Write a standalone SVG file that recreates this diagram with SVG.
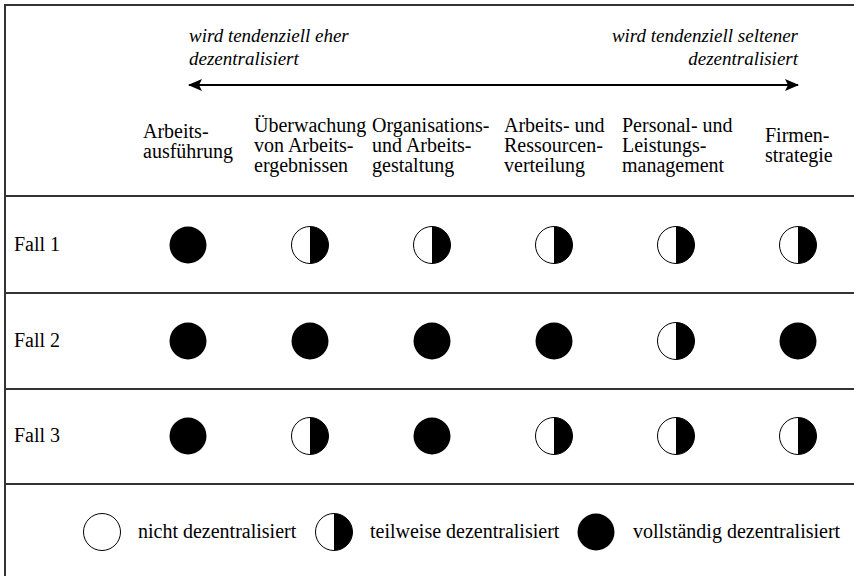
<svg xmlns="http://www.w3.org/2000/svg" width="854" height="576" viewBox="0 0 854 576">
  <defs>
    <style>
      .t { font-family: "Liberation Serif", "Times New Roman", serif; font-size: 20px; fill: #000; }
      .i { font-family: "Liberation Serif", "Times New Roman", serif; font-size: 19px; font-style: italic; fill: #000; }
      .rule { stroke: #333; stroke-width: 2; fill: none; }
      .full { fill: #000; }
      .none { fill: #fff; stroke: #000; stroke-width: 1; }
      .halfw { fill: #fff; stroke: #000; stroke-width: 1; }
    </style>
    <!-- half-filled marker: white left, black right -->
    <g id="half">
      <circle class="halfw" r="18.5"/>
      <path d="M0,-18.5 A18.5,18.5 0 0 1 0,18.5 Z" fill="#000"/>
    </g>
    <circle id="fullc" class="full" r="18.5"/>
    <marker id="head" viewBox="0 0 14 12" refX="13" refY="6" markerWidth="14" markerHeight="12" markerUnits="userSpaceOnUse" orient="auto-start-reverse">
      <path d="M0,0 L14,6 L0,12 L3,6 Z" fill="#000"/>
    </marker>
  </defs>

  <!-- frame and row rules -->
  <g id="frame">
    <line class="rule" x1="5" y1="5" x2="854" y2="5"/>
    <line class="rule" x1="5" y1="4" x2="5" y2="576"/>
    <line class="rule" x1="5" y1="196" x2="854" y2="196"/>
    <line class="rule" x1="5" y1="293" x2="854" y2="293"/>
    <line class="rule" x1="5" y1="389" x2="854" y2="389"/>
    <line class="rule" x1="5" y1="484" x2="854" y2="484"/>
  </g>

  <!-- tendency axis -->
  <g id="connectors">
    <line x1="189" y1="85" x2="798" y2="85" stroke="#000" stroke-width="2" marker-start="url(#head)" marker-end="url(#head)"/>
  </g>
  <g id="axis-labels">
    <text class="i" x="189" y="42">wird tendenziell eher</text>
    <text class="i" x="189" y="65">dezentralisiert</text>
    <text class="i" x="798" y="42" text-anchor="end">wird tendenziell seltener</text>
    <text class="i" x="798" y="65" text-anchor="end">dezentralisiert</text>
  </g>

  <!-- column headers -->
  <g id="col1"><text class="t" x="143" y="138">Arbeits-</text><text class="t" x="143" y="158">ausführung</text></g>
  <g id="col2"><text class="t" x="254" y="132">Überwachung</text><text class="t" x="254" y="152">von Arbeits-</text><text class="t" x="254" y="172">ergebnissen</text></g>
  <g id="col3"><text class="t" x="372" y="132">Organisations-</text><text class="t" x="372" y="152">und Arbeits-</text><text class="t" x="372" y="172">gestaltung</text></g>
  <g id="col4"><text class="t" x="504" y="132">Arbeits- und</text><text class="t" x="504" y="152">Ressourcen-</text><text class="t" x="504" y="172">verteilung</text></g>
  <g id="col5"><text class="t" x="622" y="132">Personal- und</text><text class="t" x="622" y="152">Leistungs-</text><text class="t" x="622" y="172">management</text></g>
  <g id="col6"><text class="t" x="765" y="142">Firmen-</text><text class="t" x="765" y="162">strategie</text></g>

  <!-- Fall 1 -->
  <g id="fall1">
    <text class="t" x="14" y="251">Fall 1</text>
    <use href="#fullc" x="188" y="245"/>
    <use href="#half" x="310" y="245"/>
    <use href="#half" x="432" y="245"/>
    <use href="#half" x="554" y="245"/>
    <use href="#half" x="676" y="245"/>
    <use href="#half" x="798" y="245"/>
  </g>

  <!-- Fall 2 -->
  <g id="fall2">
    <text class="t" x="14" y="347">Fall 2</text>
    <use href="#fullc" x="188" y="341"/>
    <use href="#fullc" x="310" y="341"/>
    <use href="#fullc" x="432" y="341"/>
    <use href="#fullc" x="554" y="341"/>
    <use href="#half" x="676" y="341"/>
    <use href="#fullc" x="798" y="341"/>
  </g>

  <!-- Fall 3 -->
  <g id="fall3">
    <text class="t" x="14" y="442">Fall 3</text>
    <use href="#fullc" x="188" y="436"/>
    <use href="#half" x="310" y="436"/>
    <use href="#fullc" x="432" y="436"/>
    <use href="#half" x="554" y="436"/>
    <use href="#half" x="676" y="436"/>
    <use href="#half" x="798" y="436"/>
  </g>

  <!-- legend -->
  <g id="legend">
    <circle class="none" cx="102" cy="532" r="18.5"/>
    <text class="t" x="138" y="538">nicht dezentralisiert</text>
    <use href="#half" x="334" y="532"/>
    <text class="t" x="370" y="538">teilweise dezentralisiert</text>
    <use href="#fullc" x="596" y="532"/>
    <text class="t" x="633" y="538">vollständig dezentralisiert</text>
  </g>
</svg>
